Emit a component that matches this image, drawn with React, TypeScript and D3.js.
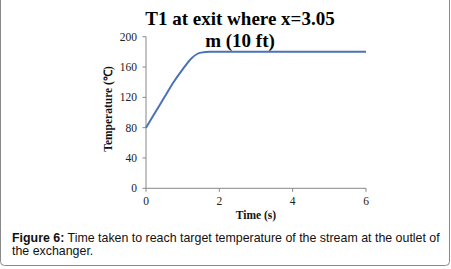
import React from "react";
import * as d3 from "d3";

const timeValues = [0, 0.25, 0.5, 0.75, 1.0, 1.25, 1.5, 1.75, 2, 3, 4, 5, 6];
const tempValues = [80, 100, 120, 140, 157, 172, 179, 180, 180, 180, 180, 180, 180];
const xTicks = [0, 2, 4, 6];
const yTicks = [0, 40, 80, 120, 160, 200];
const titleLines = ["T1 at exit where x=3.05", "m (10 ft)"];
const xTitle = "Time (s)";
const yTitle = "Temperature (℃)";
const captionBold = "Figure 6:";
const captionLine1 = " Time taken to reach target temperature of the stream at the outlet of";
const captionLine2 = "the exchanger.";

export default function App() {
  const W = 451, H = 269;
  const x = d3.scaleLinear().domain([0, 6]).range([146, 366]);
  const y = d3.scaleLinear().domain([0, 200]).range([188.3, 36.7]);
  const data = timeValues.map((t, i) => [t, tempValues[i]] as [number, number]);
  const line = d3.line<[number, number]>().x(d => x(d[0])).y(d => y(d[1])).curve(d3.curveMonotoneX);
  const axisColor = "#878787";
  const serif = "'Liberation Serif', 'Times New Roman', serif";
  const sans = "'Liberation Sans', Arial, sans-serif";
  return (
    <svg width={W} height={H} style={{ position: "absolute", left: 0, top: 0 }}>
      <rect x={0} y={0} width={W} height={H} fill="#fff" />
      <rect x={0.5} y={-20} width={449} height={285.5} rx={4} ry={4} fill="none" stroke="#8a8a8a" strokeWidth={1} />
      {/* axes */}
      <line x1={x(0)} x2={x(0)} y1={y(200)} y2={y(0)} stroke={axisColor} strokeWidth={1} />
      <line x1={x(0)} x2={x(6)} y1={y(0)} y2={y(0)} stroke={axisColor} strokeWidth={1} />
      {yTicks.map(v => (
        <g key={"y" + v}>
          <line x1={x(0) - 3.5} x2={x(0)} y1={y(v)} y2={y(v)} stroke={axisColor} strokeWidth={1} />
          <text x={137} y={y(v) + 4} textAnchor="end" fontFamily={serif} fontSize={11.5} fill="#222">{v}</text>
        </g>
      ))}
      {xTicks.map(v => (
        <g key={"x" + v}>
          <line x1={x(v)} x2={x(v)} y1={y(0)} y2={y(0) + 3.5} stroke={axisColor} strokeWidth={1} />
          <text x={x(v)} y={204.5} textAnchor="middle" fontFamily={serif} fontSize={11.5} fill="#222">{v}</text>
        </g>
      ))}
      <path d={line(data) || ""} fill="none" stroke="#4a72b8" strokeWidth={2} />
      {/* titles */}
      <text x={240} y={25} textAnchor="middle" fontFamily={serif} fontWeight="bold" fontSize={19} fill="#000">{titleLines[0]}</text>
      <text x={240} y={47} textAnchor="middle" fontFamily={serif} fontWeight="bold" fontSize={19} fill="#000">{titleLines[1]}</text>
      <text x={256} y={219} textAnchor="middle" fontFamily={serif} fontWeight="bold" fontSize={11.5} fill="#111">{xTitle}</text>
      <text transform={`translate(112,109) rotate(-90)`} textAnchor="middle" fontFamily={serif} fontWeight="bold" fontSize={11.5} fill="#111">{yTitle}</text>
      {/* caption */}
      <text x={12} y={241.5} fontFamily={sans} fontSize={12.4} fill="#111">
        <tspan fontWeight="bold">{captionBold}</tspan>
        <tspan>{captionLine1}</tspan>
      </text>
      <text x={12} y={255} fontFamily={sans} fontSize={12.4} fill="#111">{captionLine2}</text>
    </svg>
  );
}
